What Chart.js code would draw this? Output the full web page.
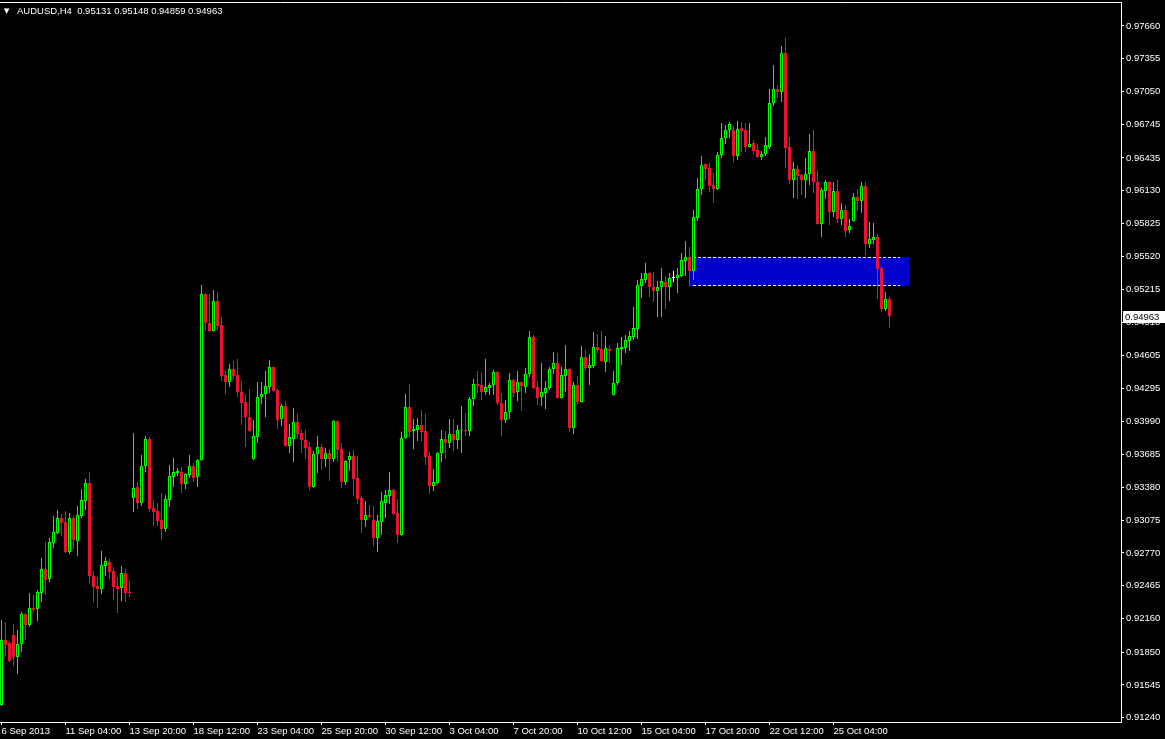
<!DOCTYPE html>
<html lang="en">

<head>
    <meta charset="UTF-8">
    <meta name="viewport" content="width=device-width, initial-scale=1.0">
    <script src="https://cdn.jsdelivr.net/npm/chart.js"></script>
    <title>AUDUSD,H4</title>
    <style>
        * {
            margin: 0px;
            padding: 0px;
        }

        body {
            background: #000;
            overflow: hidden;
        }

        .contenedor {
            width: 1165px;
            height: 739px;
        }
    </style>
</head>

<body>
    <div class="contenedor">
        <canvas id="myChart" width="1165" height="739"></canvas>
    </div>

    <script>
        const simbolo = 'AUDUSD';
        const periodo = 'H4';

        // H4 candles, 6 Sep 2013 12:00 .. 25 Oct 2013
        const opens = [
            0.91359, 0.91962, 0.91934, 0.92009, 0.91804, 0.91925, 0.92203, 0.92101, 0.92259, 0.92249,
            0.92398, 0.92620, 0.92527, 0.92862, 0.92955, 0.93094, 0.93056, 0.92778, 0.93094, 0.92881,
            0.93112, 0.93252, 0.93419, 0.92555, 0.92463, 0.92435, 0.92648, 0.92685, 0.92602, 0.92463,
            0.92444, 0.92583, 0.92407, 0.93280, 0.93382, 0.93233, 0.93576, 0.93827, 0.93187, 0.93159,
            0.93075, 0.92992, 0.93261, 0.93474, 0.93511, 0.93520, 0.93410, 0.93493, 0.93576, 0.93474,
            0.93632, 0.95173, 0.94904, 0.94830, 0.95108, 0.94885, 0.94421, 0.94356, 0.94477, 0.94421,
            0.94263, 0.94170, 0.94031, 0.93641, 0.93846, 0.94217, 0.94245, 0.94310, 0.94495, 0.94282,
            0.94012, 0.94133, 0.93762, 0.93827, 0.93984, 0.93883, 0.93818, 0.93753, 0.93382, 0.93688,
            0.93753, 0.93641, 0.93697, 0.93641, 0.93994, 0.93734, 0.93428, 0.93632, 0.93669, 0.93465,
            0.93280, 0.93075, 0.93122, 0.93075, 0.92908, 0.93056, 0.93233, 0.93298, 0.93354, 0.93140,
            0.92936, 0.93836, 0.94124, 0.93902, 0.93911, 0.93957, 0.93902, 0.93669, 0.93391, 0.93419,
            0.93697, 0.93827, 0.93790, 0.93874, 0.93818, 0.93906, 0.93911, 0.93902, 0.94199, 0.94338,
            0.94329, 0.94263, 0.94301, 0.94329, 0.94449, 0.94161, 0.94003, 0.94077, 0.94375, 0.94263,
            0.94356, 0.94310, 0.94430, 0.94773, 0.94310, 0.94217, 0.94254, 0.94301, 0.94477, 0.94532,
            0.94208, 0.94411, 0.94477, 0.93929, 0.94329, 0.94170, 0.94588, 0.94486, 0.94504, 0.94681,
            0.94662, 0.94541, 0.94662, 0.94236, 0.94347, 0.94662, 0.94672, 0.94737, 0.94774, 0.94848,
            0.95247, 0.95303, 0.95367, 0.95238, 0.95201, 0.95238, 0.95284, 0.95238, 0.95321, 0.95320,
            0.95339, 0.95479, 0.95516, 0.95386, 0.95878, 0.96147, 0.96379, 0.96342, 0.96185, 0.96147,
            0.96463, 0.96620, 0.96695, 0.96695, 0.96453, 0.96713, 0.96695, 0.96537, 0.96574, 0.96509,
            0.96444, 0.96472, 0.96537, 0.96945, 0.97075, 0.97047, 0.97409, 0.96537, 0.96231, 0.96333,
            0.96277, 0.96231, 0.96286, 0.96500, 0.96212, 0.95822, 0.96128, 0.96212, 0.95933, 0.96128,
            0.95869, 0.95952, 0.95767, 0.95850, 0.96073, 0.96036, 0.96175, 0.95637, 0.95674, 0.95702,
            0.95414, 0.95033, 0.95131
        ];
        const highs = [
            0.92147, 0.92128, 0.91953, 0.92110, 0.92055, 0.92221, 0.92210, 0.92398, 0.92380, 0.92426,
            0.92723, 0.92871, 0.92908, 0.93112, 0.93168, 0.93131, 0.93159, 0.93140, 0.93112, 0.93205,
            0.93363, 0.93456, 0.93520, 0.92602, 0.92546, 0.92788, 0.92732, 0.92713, 0.92639, 0.92546,
            0.92648, 0.92620, 0.92510, 0.93883, 0.93428, 0.93679, 0.93855, 0.93846, 0.93261, 0.93233,
            0.93326, 0.93307, 0.93585, 0.93650, 0.93557, 0.93567, 0.93511, 0.93679, 0.93604, 0.93640,
            0.95256, 0.95180, 0.95173, 0.95210, 0.95191, 0.94959, 0.94458, 0.94523, 0.94551, 0.94569,
            0.94366, 0.94245, 0.94291, 0.94003, 0.94356, 0.94356, 0.94458, 0.94560, 0.94500, 0.94291,
            0.94152, 0.94180, 0.93966, 0.94115, 0.94059, 0.93911, 0.93911, 0.93799, 0.93716, 0.93855,
            0.93781, 0.93744, 0.93734, 0.94000, 0.94000, 0.93790, 0.93630, 0.93706, 0.93725, 0.93669,
            0.93298, 0.93252, 0.93215, 0.93205, 0.93122, 0.93335, 0.93354, 0.93520, 0.93363, 0.93270,
            0.93892, 0.94245, 0.94338, 0.94012, 0.94022, 0.94096, 0.94059, 0.93706, 0.93548, 0.93705,
            0.93911, 0.93902, 0.94012, 0.94012, 0.93957, 0.94133, 0.94068, 0.94217, 0.94383, 0.94458,
            0.94449, 0.94569, 0.94347, 0.94467, 0.94458, 0.94254, 0.94189, 0.94439, 0.94383, 0.94458,
            0.94360, 0.94486, 0.94830, 0.94792, 0.94366, 0.94532, 0.94366, 0.94495, 0.94634, 0.94625,
            0.94495, 0.94699, 0.94486, 0.94356, 0.94411, 0.94690, 0.94653, 0.94616, 0.94820, 0.94802,
            0.94830, 0.94783, 0.94690, 0.94458, 0.94718, 0.94774, 0.94792, 0.94830, 0.95052, 0.95303,
            0.95367, 0.95460, 0.95376, 0.95376, 0.95294, 0.95414, 0.95339, 0.95367, 0.95386, 0.95414,
            0.95553, 0.95665, 0.95609, 0.95952, 0.96249, 0.96453, 0.96385, 0.96388, 0.96295, 0.96490,
            0.96759, 0.96741, 0.96768, 0.96732, 0.96778, 0.96768, 0.96759, 0.96759, 0.96602, 0.96565,
            0.96500, 0.96630, 0.97075, 0.97298, 0.97112, 0.97474, 0.97548, 0.96630, 0.96397, 0.96370,
            0.96286, 0.96435, 0.96658, 0.96695, 0.96323, 0.96156, 0.96231, 0.96221, 0.96212, 0.96231,
            0.96017, 0.95998, 0.95869, 0.96110, 0.96147, 0.96212, 0.96212, 0.95840, 0.95831, 0.95730,
            0.95432, 0.95191, 0.95148
        ];
        const lows = [
            0.91350, 0.91813, 0.91757, 0.91720, 0.91646, 0.91850, 0.91962, 0.92082, 0.92221, 0.92138,
            0.92314, 0.92380, 0.92500, 0.92816, 0.92946, 0.92927, 0.92770, 0.92760, 0.92806, 0.92741,
            0.93094, 0.93168, 0.92491, 0.92314, 0.92259, 0.92389, 0.92555, 0.92527, 0.92333, 0.92212,
            0.92324, 0.92314, 0.92361, 0.93149, 0.93177, 0.93205, 0.93520, 0.93149, 0.93019, 0.93019,
            0.92890, 0.92964, 0.93196, 0.93382, 0.93483, 0.93326, 0.93363, 0.93465, 0.93428, 0.93382,
            0.93625, 0.94839, 0.94820, 0.94825, 0.94839, 0.94365, 0.94245, 0.94310, 0.94383, 0.94217,
            0.93957, 0.93753, 0.93892, 0.93632, 0.93790, 0.94152, 0.94031, 0.94254, 0.94265, 0.93920,
            0.93947, 0.93755, 0.93697, 0.93613, 0.93827, 0.93697, 0.93641, 0.93354, 0.93375, 0.93511,
            0.93539, 0.93567, 0.93438, 0.93613, 0.93613, 0.93373, 0.93401, 0.93530, 0.93298, 0.93224,
            0.92955, 0.93010, 0.93095, 0.92834, 0.92778, 0.92936, 0.93094, 0.93224, 0.93125, 0.92862,
            0.92930, 0.93830, 0.93846, 0.93734, 0.93809, 0.93809, 0.93585, 0.93317, 0.93345, 0.93410,
            0.93613, 0.93641, 0.93744, 0.93716, 0.93734, 0.93697, 0.93855, 0.93855, 0.94133, 0.94254,
            0.94189, 0.94236, 0.94236, 0.94236, 0.94143, 0.93855, 0.93975, 0.94012, 0.94217, 0.94180,
            0.94087, 0.94254, 0.94402, 0.94291, 0.94143, 0.94133, 0.94105, 0.94282, 0.94430, 0.94200,
            0.94200, 0.94263, 0.93892, 0.93874, 0.94152, 0.94165, 0.94467, 0.94329, 0.94486, 0.94625,
            0.94541, 0.94449, 0.94532, 0.94230, 0.94329, 0.94514, 0.94625, 0.94644, 0.94746, 0.94755,
            0.95136, 0.95275, 0.95145, 0.95099, 0.94959, 0.94959, 0.95033, 0.95108, 0.95284, 0.95182,
            0.95330, 0.95339, 0.95247, 0.95303, 0.95850, 0.96091, 0.96231, 0.96119, 0.96017, 0.96138,
            0.96435, 0.96565, 0.96620, 0.96397, 0.96416, 0.96490, 0.96490, 0.96530, 0.96472, 0.96435,
            0.96416, 0.96453, 0.96518, 0.96917, 0.96992, 0.96954, 0.96342, 0.96194, 0.96064, 0.96054,
            0.96091, 0.96064, 0.96185, 0.96110, 0.95815, 0.95702, 0.96054, 0.95813, 0.95887, 0.95831,
            0.95813, 0.95702, 0.95739, 0.95845, 0.95943, 0.95924, 0.95535, 0.95600, 0.95637, 0.95126,
            0.95005, 0.95015, 0.94859
        ];
        const closes = [
            0.91962, 0.91916, 0.91767, 0.91804, 0.91925, 0.92203, 0.92101, 0.92259, 0.92240, 0.92407,
            0.92620, 0.92519, 0.92871, 0.92964, 0.93094, 0.93047, 0.92778, 0.93094, 0.92890, 0.93122,
            0.93261, 0.93419, 0.92555, 0.92453, 0.92435, 0.92658, 0.92695, 0.92592, 0.92453, 0.92435,
            0.92583, 0.92398, 0.92398, 0.93373, 0.93233, 0.93576, 0.93827, 0.93177, 0.93149, 0.93066,
            0.92992, 0.93270, 0.93483, 0.93520, 0.93530, 0.93410, 0.93502, 0.93576, 0.93465, 0.93632,
            0.95173, 0.94904, 0.94830, 0.95108, 0.94876, 0.94411, 0.94356, 0.94477, 0.94411, 0.94263,
            0.94161, 0.94031, 0.93902, 0.93855, 0.94217, 0.94245, 0.94319, 0.94495, 0.94273, 0.94003,
            0.94133, 0.93762, 0.93846, 0.93984, 0.93874, 0.93818, 0.93744, 0.93382, 0.93688, 0.93753,
            0.93641, 0.93697, 0.93641, 0.93994, 0.93725, 0.93428, 0.93623, 0.93669, 0.93456, 0.93270,
            0.93075, 0.93122, 0.93103, 0.92908, 0.93066, 0.93252, 0.93307, 0.93354, 0.93131, 0.92936,
            0.93836, 0.94124, 0.93892, 0.93920, 0.93957, 0.93892, 0.93660, 0.93391, 0.93428, 0.93697,
            0.93827, 0.93790, 0.93874, 0.93818, 0.93911, 0.93911, 0.93902, 0.94199, 0.94338, 0.94319,
            0.94263, 0.94310, 0.94329, 0.94449, 0.94161, 0.94003, 0.94077, 0.94375, 0.94254, 0.94356,
            0.94319, 0.94430, 0.94773, 0.94301, 0.94208, 0.94263, 0.94301, 0.94477, 0.94532, 0.94208,
            0.94421, 0.94477, 0.93929, 0.94329, 0.94170, 0.94588, 0.94486, 0.94514, 0.94681, 0.94653,
            0.94551, 0.94672, 0.94644, 0.94347, 0.94672, 0.94681, 0.94746, 0.94783, 0.94857, 0.95256,
            0.95311, 0.95367, 0.95238, 0.95201, 0.95238, 0.95294, 0.95238, 0.95321, 0.95321, 0.95349,
            0.95488, 0.95516, 0.95386, 0.95887, 0.96147, 0.96370, 0.96333, 0.96175, 0.96147, 0.96463,
            0.96620, 0.96695, 0.96750, 0.96453, 0.96704, 0.96686, 0.96537, 0.96565, 0.96500, 0.96444,
            0.96472, 0.96556, 0.96945, 0.97075, 0.97047, 0.97409, 0.96527, 0.96231, 0.96333, 0.96268,
            0.96231, 0.96286, 0.96500, 0.96212, 0.95822, 0.96138, 0.96212, 0.95933, 0.96128, 0.95869,
            0.95952, 0.95757, 0.95804, 0.96073, 0.96036, 0.96175, 0.95637, 0.95683, 0.95702, 0.95405,
            0.95033, 0.95126, 0.94963
        ];

        // time axis: one label every 16 bars
        const posicionesX = [0, 16, 32, 48, 64, 80, 96, 112, 128, 144, 160, 176, 192, 208];
        const etiquetasX = ['6 Sep 2013', '11 Sep 04:00', '13 Sep 20:00', '18 Sep 12:00', '23 Sep 04:00',
            '25 Sep 20:00', '30 Sep 12:00', '3 Oct 04:00', '7 Oct 20:00', '10 Oct 12:00',
            '15 Oct 04:00', '17 Oct 20:00', '22 Oct 12:00', '25 Oct 04:00'];

        const preciosEje = [0.97660, 0.97355, 0.97050, 0.96745, 0.96435, 0.96130, 0.95825, 0.95520,
            0.95215, 0.94910, 0.94605, 0.94295, 0.93990, 0.93685, 0.93380, 0.93075, 0.92770, 0.92465,
            0.92160, 0.91850, 0.91545, 0.91240];

        // blue rectangle (bar index range, price range)
        const zonaX = [172.1, 226.9];
        const zonaPrecio = [0.95247, 0.95512];

        const verde = '#00ff00';
        const rojo = '#ec1230';
        const blanco = '#ffffff';
        const fuente = { family: "'Liberation Sans', Arial, sans-serif", size: 9.5 };

        const colorVela = (i) => closes[i] > opens[i] ? verde : (closes[i] < opens[i] ? rojo : blanco);
        const ultimo = closes.length - 1;

        const decorado = {
            id: 'decorado',
            beforeDraw(chart) {
                const c = chart.ctx;
                c.save();
                c.fillStyle = '#000';
                c.fillRect(0, 0, chart.width, chart.height);
                c.restore();
            },
            beforeDatasetsDraw(chart) {
                const c = chart.ctx;
                const x = chart.scales.x;
                const y = chart.scales.y;
                const x1 = Math.round(x.getPixelForValue(zonaX[0]));
                const x2 = Math.round(x.getPixelForValue(zonaX[1]));
                const y1 = Math.round(y.getPixelForValue(zonaPrecio[1]));
                const y2 = Math.round(y.getPixelForValue(zonaPrecio[0]));
                c.save();
                c.fillStyle = '#0000cd';
                c.fillRect(x1, y1, x2 - x1, y2 - y1);
                c.strokeStyle = '#fff';
                c.lineWidth = 1;
                c.setLineDash([3, 2]);
                c.beginPath();
                c.moveTo(x1 + 3, y1 + 0.5);
                c.lineTo(x2 - 9, y1 + 0.5);
                c.moveTo(x1 + 3, y2 - 0.5);
                c.lineTo(x2 - 9, y2 - 0.5);
                c.stroke();
                c.restore();
            },
            afterDraw(chart) {
                const c = chart.ctx;
                const area = chart.chartArea;
                c.save();
                // top frame line
                c.strokeStyle = '#fff';
                c.lineWidth = 1;
                c.beginPath();
                c.moveTo(0, area.top + 0.5);
                c.lineTo(area.right + 0.5, area.top + 0.5);
                c.stroke();

                // header
                c.fillStyle = '#fff';
                c.textBaseline = 'middle';
                c.font = "7px 'DejaVu Sans'";
                c.fillText('\u25BC', 4, 11);
                c.font = "9.5px 'Liberation Sans', Arial, sans-serif";
                const ohlc = [opens[ultimo], highs[ultimo], lows[ultimo], closes[ultimo]].map(v => v.toFixed(5)).join(' ');
                c.fillText(simbolo + ',' + periodo + '  ' + ohlc, 17, 11.5);

                // last price label
                const py = Math.round(chart.scales.y.getPixelForValue(closes[ultimo]));
                c.fillStyle = '#fff';
                c.fillRect(area.right + 2, py - 6, 42, 12);
                c.fillStyle = '#000';
                c.fillText(closes[ultimo].toFixed(5), area.right + 4, py + 0.5);
                c.restore();
            }
        };

        const ctx = document.getElementById('myChart').getContext('2d');
        const myChart = new Chart(ctx, {
            type: 'bar',
            data: {
                datasets: [{
                    label: 'cuerpos',
                    data: opens.map((o, i) => ({ x: i, y: [o, closes[i]] })),
                    backgroundColor: opens.map((o, i) => closes[i] > o ? '#000' : colorVela(i)),
                    borderColor: opens.map((o, i) => colorVela(i)),
                    borderWidth: 1,
                    borderSkipped: false,
                    barThickness: 3,
                    minBarLength: 1,
                    inflateAmount: 0,
                    grouped: false,
                    order: 0
                }, {
                    label: 'mechas',
                    data: highs.map((h, i) => ({ x: i, y: [lows[i], h] })),
                    backgroundColor: highs.map((h, i) => colorVela(i)),
                    borderWidth: 0,
                    barThickness: 1,
                    minBarLength: 1,
                    inflateAmount: 0,
                    grouped: false,
                    order: 1
                }]
            },
            options: {
                responsive: false,
                animation: false,
                events: [],
                layout: { padding: { top: 2, left: 0, right: 0, bottom: 0 } },
                scales: {
                    x: {
                        type: 'linear',
                        min: -0.375,
                        max: 279.875,
                        offset: false,
                        grid: { offset: false, drawOnChartArea: false, color: '#fff', tickLength: 3 },
                        border: { color: '#fff' },
                        ticks: {
                            color: '#fff',
                            font: fuente,
                            align: 'start',
                            autoSkip: false,
                            maxRotation: 0,
                            minRotation: 0,
                            padding: 1,
                            callback: (v, i) => etiquetasX[i]
                        },
                        afterBuildTicks: (s) => { s.ticks = posicionesX.map(v => ({ value: v })); },
                        afterFit: (s) => { s.height = 17; s.paddingLeft = 0; s.paddingRight = 0; }
                    },
                    y: {
                        type: 'linear',
                        position: 'right',
                        min: 0.91201,
                        max: 0.97882,
                        beginAtZero: false,
                        grid: { drawOnChartArea: false, color: '#fff', tickLength: 3 },
                        border: { color: '#fff' },
                        ticks: {
                            color: '#fff',
                            font: fuente,
                            padding: 2,
                            callback: (v) => v.toFixed(5)
                        },
                        afterBuildTicks: (s) => { s.ticks = preciosEje.map(v => ({ value: v })); },
                        afterFit: (s) => { s.width = 44; s.paddingTop = 0; s.paddingBottom = 0; }
                    }
                },
                plugins: {
                    legend: { display: false },
                    tooltip: { enabled: false }
                }
            },
            plugins: [decorado]
        });
    </script>
</body>

</html>
